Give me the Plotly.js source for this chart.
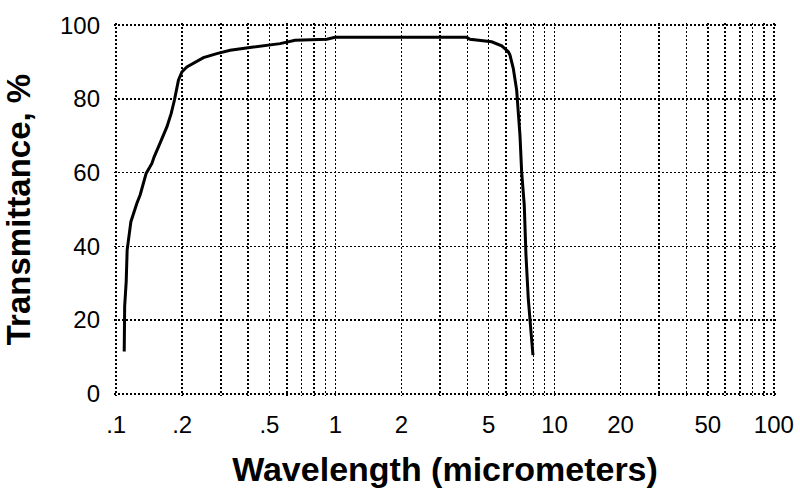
<!DOCTYPE html>
<html>
<head>
<meta charset="utf-8">
<script src="https://cdn.plot.ly/plotly-3.0.1.min.js"></script>
<style>html,body{margin:0;padding:0;background:#fff;}#chart{width:800px;height:496px;}</style>
</head>
<body>
<div id="chart"></div>
<script>
// Wavelength in micrometers (log axis) and transmittance in percent
var wavelength = [0.1088, 0.1093, 0.1111, 0.1122, 0.1167, 0.1199, 0.1243, 0.1287, 0.1332, 0.1370,
  0.1455, 0.1490, 0.1559, 0.1633, 0.1703, 0.1781, 0.1844, 0.1923, 0.1993, 0.2101,
  0.2251, 0.2500, 0.2878, 0.3310, 0.4227, 0.5595, 0.6549, 0.9134, 0.9966, 3.972,
  4.111, 5.164, 5.735, 6.147, 6.258, 6.478, 6.713, 6.877, 6.950, 7.075,
  7.271, 7.402, 7.583, 7.801, 7.967];
var transmittance = [11.5, 23.7, 30.5, 39.0, 46.7, 49.0, 51.7, 54.0, 57.0, 59.8,
  62.5, 64.3, 67.0, 69.7, 72.4, 76.0, 79.7, 85.1, 87.3, 88.7,
  89.6, 91.2, 92.3, 93.2, 94.1, 95.0, 95.9, 96.2, 96.7, 96.7,
  96.2, 95.5, 94.4, 92.8, 91.9, 88.3, 82.4, 74.7, 70.2, 60.2,
  51.2, 37.7, 25.9, 16.9, 10.5];

var xTickVals = [0.1, 0.2, 0.3, 0.4, 0.5, 0.6, 0.7, 0.8, 0.9,
  1, 2, 3, 4, 5, 6, 7, 8, 9,
  10, 20, 30, 40, 50, 60, 70, 80, 90, 100];
var xTickText = ['.1', '.2', '', '', '.5', '', '', '', '',
  '1', '2', '', '', '5', '', '', '', '',
  '10', '20', '', '', '50', '', '', '', '', '100'];
var yTickVals = [0, 20, 40, 60, 80, 100];
var yTickText = ['0', '20', '40', '60', '80', '100'];

var trace = {
  x: wavelength,
  y: transmittance,
  type: 'scatter',
  mode: 'lines',
  line: {color: '#000000', width: 3, shape: 'linear'},
  hoverinfo: 'skip'
};

var gridStyle = {
  showgrid: true,
  gridcolor: '#000000',
  gridwidth: 1.6,
  griddash: '2px,2px',
  zeroline: false,
  showline: false,
  ticks: ''
};

var layout = {
  width: 800,
  height: 496,
  margin: {l: 114, r: 24, t: 23, b: 100},
  paper_bgcolor: '#ffffff',
  plot_bgcolor: '#ffffff',
  showlegend: false,
  font: {family: 'Liberation Sans, Arial, sans-serif', color: '#000000'},
  xaxis: Object.assign({}, gridStyle, {
    type: 'log',
    range: [-1.01, 2.01],
    tickmode: 'array',
    tickvals: xTickVals,
    ticktext: xTickText,
    tickfont: {family: 'Liberation Sans, Arial, sans-serif', size: 24, color: '#000000'},
    ticklabelstandoff: 12,
    title: {
      text: '<b>Wavelength (micrometers)</b>',
      font: {family: 'Liberation Sans, Arial, sans-serif', size: 34, color: '#000000'},
      standoff: 20
    }
  }),
  yaxis: Object.assign({}, gridStyle, {
    range: [-0.6, 100.6],
    tickmode: 'array',
    tickvals: yTickVals,
    ticktext: yTickText,
    tickfont: {family: 'Liberation Sans, Arial, sans-serif', size: 24, color: '#000000'},
    ticklabelstandoff: 13,
    title: {
      text: '<b>Transmittance, %</b>',
      font: {family: 'Liberation Sans, Arial, sans-serif', size: 33, color: '#000000'},
      standoff: 33
    }
  })
};

Plotly.newPlot('chart', [trace], layout, {staticPlot: true, displayModeBar: false});
</script>
</body>
</html>
